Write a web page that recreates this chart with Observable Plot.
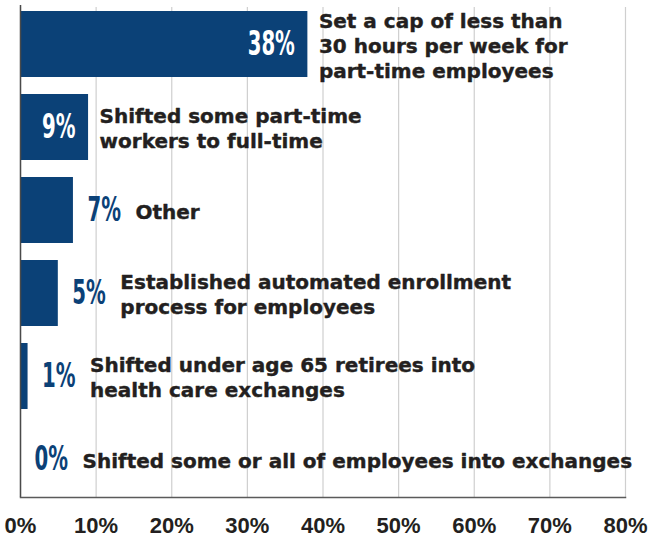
<!DOCTYPE html>
<html>
<head>
<meta charset="utf-8">
<script src="https://cdn.jsdelivr.net/npm/d3@7"></script>
<script src="https://cdn.jsdelivr.net/npm/@observablehq/plot@0.6"></script>
<style>
  html, body { margin: 0; padding: 0; background: #fff; }
</style>
</head>
<body>
<div id="chart"></div>
<script>
const categories = [
  "Set a cap of less than\n30 hours per week for\npart-time employees",
  "Shifted some part-time\nworkers to full-time",
  "Other",
  "Established automated enrollment\nprocess for employees",
  "Shifted under age 65 retirees into\nhealth care exchanges",
  "Shifted some or all of employees into exchanges"
];
const values = [38, 9, 7, 5, 1, 0];
const xTicks = [0, 10, 20, 30, 40, 50, 60, 70, 80];

const data = categories.map((c, i) => ({category: c, value: values[i], inside: values[i] >= 9}));
const inside = data.filter(d => d.inside);
const outside = data.filter(d => !d.inside);

const navy = "#0b4177";
const ink = "#231f20";
const valueFont = "'DejaVu Sans', sans-serif";
const labelFont = "'DejaVu Sans', sans-serif";

const chart = Plot.plot({
  width: 648,
  height: 540,
  marginTop: 7,
  marginBottom: 43,
  marginLeft: 20,
  marginRight: 23,
  style: {fontFamily: "'Liberation Sans', sans-serif", background: "#fff"},
  x: {domain: [0, 80], axis: null},
  y: {domain: categories, paddingInner: 0.2, paddingOuter: 0.044, axis: null},
  marks: [
    Plot.gridX(xTicks, {stroke: "#cfcfcf", strokeOpacity: 1, strokeWidth: 1.2}),
    Plot.barX(data, {x: "value", y: "category", fill: navy}),
    Plot.ruleX([0], {stroke: "#4a4a4a", strokeWidth: 1.5, insetTop: -2}),
    Plot.frame({anchor: "bottom", stroke: "#5a5a5a", strokeWidth: 1.5}),
    Plot.axisX({
      ticks: xTicks, tickFormat: d => d + "%", tickSize: 0, tickPadding: 20,
      label: null, fontSize: 22, fontWeight: "bold", fill: ink,
      stroke: ink, strokeWidth: 0.6,
      fontFamily: "'Liberation Sans', sans-serif"
    }),
    Plot.text(inside, {
      x: "value", y: "category", text: d => d.value + "%",
      textAnchor: "end", dx: -13, fill: "white",
      fontSize: 34, fontWeight: "bold", fontFamily: valueFont,
      className: "vlabel"
    }),
    Plot.text(outside, {
      x: "value", y: "category", text: d => d.value + "%",
      textAnchor: "start", dx: 14, fill: navy,
      fontSize: 34, fontWeight: "bold", fontFamily: valueFont,
      className: "vlabel"
    }),
    Plot.text(inside, {
      x: "value", y: "category", text: "category",
      textAnchor: "start", dx: 11, lineHeight: 1.25, fill: ink,
      stroke: ink, strokeWidth: 0.4,
      fontSize: 20, fontWeight: "bold", fontFamily: labelFont
    }),
    Plot.text(outside, {
      x: "value", y: "category", text: "category",
      textAnchor: "start", dx: 62, lineHeight: 1.25, fill: ink,
      stroke: ink, strokeWidth: 0.4,
      fontSize: 20, fontWeight: "bold", fontFamily: labelFont
    })
  ]
});
document.getElementById("chart").appendChild(chart);

// condense the value labels horizontally around their anchor point
d3.select(chart).selectAll(".vlabel text").each(function() {
  const x = +this.getAttribute("x") || 0;
  const y = +this.getAttribute("y") || 0;
  const t = this.getAttribute("transform") || "";
  this.setAttribute("transform", `${t} translate(${x},${y}) scale(0.58,1) translate(${-x},${-y})`);
});
</script>
</body>
</html>
